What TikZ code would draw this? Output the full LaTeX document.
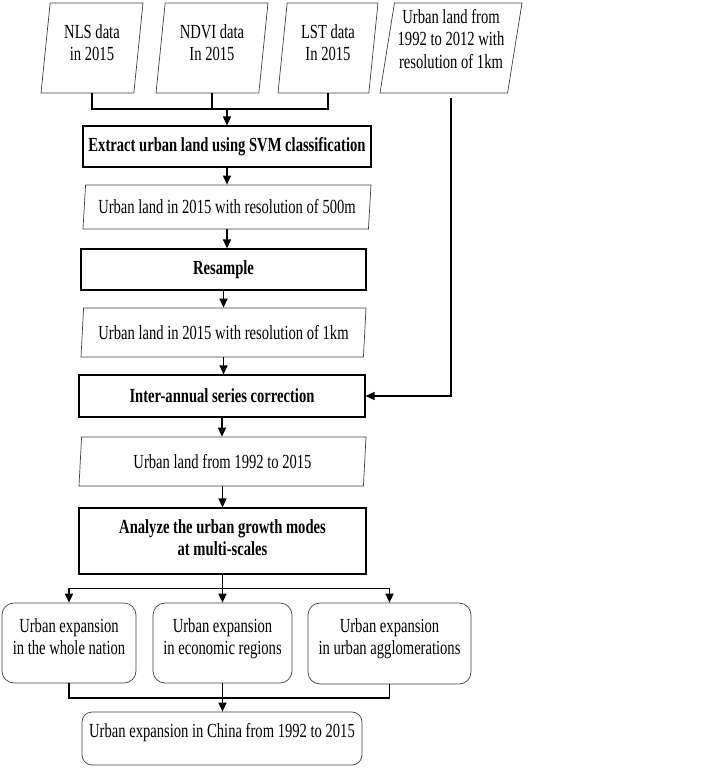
\documentclass[tikz,border=0pt]{standalone}
\usepackage{fontspec}
\setmainfont{Liberation Serif}[FakeStretch=0.73]
\usetikzlibrary{shapes.geometric,arrows.meta}
\begin{document}
\begin{tikzpicture}[x=1pt,y=-1pt,
  every node/.style={font=\fontsize{20}{22}\selectfont, align=center, inner sep=2pt},
  data/.style={trapezium, trapezium left angle=80, trapezium right angle=100,
    trapezium stretches body, draw=black!75, line width=0.7pt},
  flat/.style={data, trapezium left angle=82, trapezium right angle=98},
  proc/.style={rectangle, draw, line width=1.1pt, font=\fontsize{20}{22}\selectfont\bfseries},
  outbox/.style={rectangle, rounded corners=12pt, draw=black!75, line width=0.7pt},
  lift/.style 2 args={text height=#1, text depth=#2},
  link/.style={line width=1.4pt},
  arr/.style={link, -{Triangle[length=9pt,width=8pt]}}]
\useasboundingbox (0,0) rectangle (704,768);
% input data
\node[data, lift={37pt}{11pt}, minimum width=102, minimum height=90] (nls) at (92,48) {NLS data\\in 2015};
\node[data, lift={37pt}{11pt}, minimum width=112, minimum height=90] (ndvi) at (212,48) {NDVI data\\In 2015};
\node[data, lift={37pt}{11pt}, minimum width=100, minimum height=90] (lst) at (328,48) {LST data\\In 2015};
\node[data, lift={59pt}{19pt}, minimum width=142, minimum height=90] (old) at (451,48) {Urban land from\\1992 to 2012 with\\resolution of 1km};
% main column
\node[proc, minimum width=288, minimum height=41] (extract) at (227,146.5) {Extract urban land using SVM classification};
\node[flat, minimum width=288, minimum height=44] (land500) at (227,207) {Urban land in 2015 with resolution of 500m};
\node[proc, minimum width=285, minimum height=41] (resample) at (223.5,269.5) {Resample};
\node[flat, minimum width=285, minimum height=49] (land1km) at (223.5,332.5) {Urban land in 2015 with resolution of 1km};
\node[proc, minimum width=286, minimum height=42] (correct) at (222,396) {Inter-annual series correction};
\node[flat, minimum width=287, minimum height=49] (land9215) at (222.5,461.5) {Urban land from 1992 to 2015};
\node[proc, lift={37pt}{9pt}, minimum width=287, minimum height=66] (analyze) at (222.5,541) {Analyze the urban growth modes\\at multi-scales};
% outputs
\node[outbox, lift={37pt}{15pt}, minimum width=134, minimum height=80] (nation) at (69,643) {Urban expansion\\in the whole nation};
\node[outbox, lift={37pt}{15pt}, minimum width=139, minimum height=80] (econ) at (222.5,643) {Urban expansion\\in economic regions};
\node[outbox, lift={37pt}{15pt}, minimum width=163, minimum height=81] (agglo) at (389.5,643.5) {Urban expansion\\in urban agglomerations};
\node[outbox, lift={15pt}{18pt}, rounded corners=10pt, minimum width=280, minimum height=53] (china) at (222,738.5) {Urban expansion in China from 1992 to 2015};
% connectors
\coordinate (join) at (227,109);
\draw[link] (nls.south) |- (join) -| (lst.south);
\draw[link] (ndvi.south) -- (ndvi.south |- join);
\draw[arr] (join) -- (extract.north);
\draw[arr] ([yshift=-5pt]old.south) |- (correct.east);
\foreach \a/\b in {extract/land500, land500/resample, resample/land1km,
  land1km/correct, correct/land9215, land9215/analyze}
  \draw[arr] (\a.south) -- (\a.south |- \b.north);
\draw[link] (analyze.south) -- ++(0,14) coordinate (split);
\draw[arr] (split) -| (nation.north);
\draw[arr] (split) -| (agglo.north);
\draw[arr] (split) -- (split |- econ.north);
\coordinate (merge) at (analyze.south |- 0,698);
\draw[link] (nation.south) |- (merge) -| (agglo.south);
\draw[link] (econ.south) -- (econ.south |- merge);
\draw[arr] (merge) -- (merge |- china.north);
\end{tikzpicture}
\end{document}
